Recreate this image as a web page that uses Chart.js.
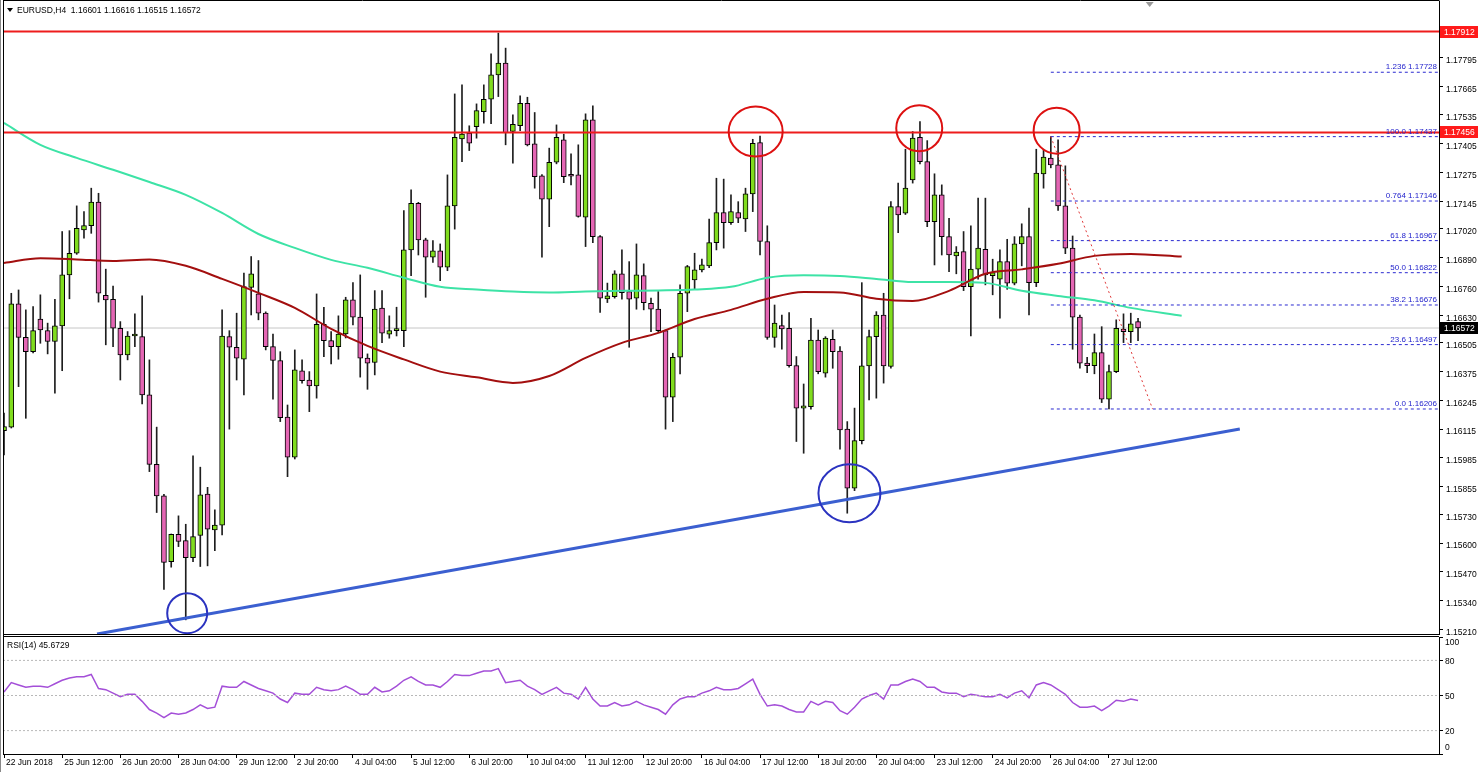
<!DOCTYPE html>
<html>
<head>
<meta charset="utf-8">
<script src="https://cdn.jsdelivr.net/npm/chart.js@4.4.0/dist/chart.umd.min.js"></script>
<style>
  html, body { margin: 0; padding: 0; background: #fff; }
  #wrap { position: relative; width: 1480px; height: 772px; overflow: hidden; }
  canvas { position: absolute; left: 0; }
  #main { top: 0; }
  #rsi { top: 636px; }
</style>
</head>
<body>
<div id="wrap">
  <canvas id="main" width="1480" height="636"></canvas>
  <canvas id="rsi" width="1480" height="136"></canvas>
</div>
<script>
// EURUSD H4 candles
const opens = [
  1.16108,1.16124,1.16681,1.16530,1.16465,1.16612,1.16560,1.16511,1.16582,1.16812,
  1.16910,1.17015,1.17035,1.17141,1.16720,1.16702,1.16571,1.16450,1.16536,1.16533,
  1.16270,1.15956,1.15813,1.15516,1.15640,1.15611,1.15534,1.15634,1.15821,1.15659,
  1.15681,1.16533,1.16485,1.16431,1.16756,1.16726,1.16639,1.16488,1.16425,1.16169,
  1.15988,1.16378,1.16337,1.16310,1.16589,1.16515,1.16488,1.16545,1.16699,1.16621,
  1.16436,1.16416,1.16662,1.16544,1.16560,1.16560,1.16925,1.17136,1.16970,1.16892,
  1.16921,1.16847,1.17124,1.17427,1.17453,1.17482,1.17550,1.17606,1.17716,1.17769,
  1.17460,1.17486,1.17588,1.17404,1.17260,1.17154,1.17321,1.17422,1.17261,1.17264,
  1.17073,1.17513,1.16985,1.16704,1.16714,1.16817,1.16737,1.16707,1.16809,1.16684,
  1.16657,1.16560,1.16259,1.16440,1.16729,1.16789,1.16835,1.16853,1.16958,1.17094,
  1.17048,1.17094,1.17065,1.17178,1.17410,1.16963,1.16529,1.16583,1.16571,1.16402,
  1.16210,1.16217,1.16518,1.16368,1.16521,1.16468,1.16115,1.15848,1.16063,1.16401,
  1.16533,1.16631,1.16398,1.17121,1.17091,1.17241,1.17434,1.17324,1.17053,1.17174,
  1.16985,1.16898,1.16917,1.16759,1.16838,1.16928,1.16808,1.16793,1.16872,1.16775,
  1.16952,1.16985,1.16777,1.17269,1.17340,1.17309,1.17124,1.16933,1.16621,1.16413,
  1.16402,1.16461,1.16250,1.16375,1.16567,1.16556,1.16601
];
const highs = [
  1.16188,1.16729,1.16744,1.16654,1.16669,1.16722,1.16594,1.16702,1.17008,1.17012,
  1.17124,1.17098,1.17204,1.17181,1.16838,1.16762,1.16601,1.16556,1.16636,1.16717,
  1.16428,1.16124,1.15820,1.15641,1.15723,1.15685,1.15994,1.15943,1.15852,1.15750,
  1.16654,1.16560,1.16639,1.16820,1.16895,1.16877,1.16645,1.16545,1.16465,1.16224,
  1.16473,1.16428,1.16375,1.16726,1.16666,1.16556,1.16627,1.16711,1.16777,1.16812,
  1.16455,1.16741,1.16741,1.16627,1.16666,1.17103,1.17196,1.17140,1.16978,1.16967,
  1.16952,1.17264,1.17630,1.17671,1.17486,1.17585,1.17671,1.17811,1.17905,1.17837,
  1.17535,1.17621,1.17615,1.17546,1.17265,1.17385,1.17490,1.17448,1.17359,1.17400,
  1.17540,1.17576,1.16990,1.16775,1.16831,1.16925,1.16872,1.16952,1.16862,1.16707,
  1.16737,1.16563,1.16458,1.16767,1.16855,1.16910,1.16883,1.17064,1.17249,1.17245,
  1.17174,1.17143,1.17204,1.17425,1.17440,1.17034,1.16676,1.16631,1.16642,1.16443,
  1.16319,1.16616,1.16563,1.16533,1.16563,1.16488,1.16149,1.16210,1.16777,1.16563,
  1.16646,1.16729,1.17143,1.17227,1.17380,1.17460,1.17505,1.17419,1.17269,1.17219,
  1.17068,1.16940,1.17008,1.17034,1.17159,1.17159,1.16883,1.16925,1.16973,1.16985,
  1.17043,1.17114,1.17380,1.17380,1.17437,1.17422,1.17305,1.16988,1.16631,1.16440,
  1.16545,1.16578,1.16405,1.16609,1.16636,1.16639,1.16616
];
const lows = [
  1.15998,1.16120,1.16307,1.16164,1.16459,1.16503,1.16455,1.16277,1.16379,1.16704,
  1.16905,1.16978,1.17000,1.16689,1.16496,1.16488,1.16337,1.16428,1.16488,1.16229,
  1.15923,1.15738,1.15391,1.15491,1.15584,1.15253,1.15516,1.15494,1.15497,1.15566,
  1.15637,1.16115,1.16337,1.16270,1.16631,1.16609,1.16473,1.16250,1.16149,1.15900,
  1.15980,1.16323,1.16194,1.16255,1.16443,1.16410,1.16431,1.16527,1.16586,1.16350,
  1.16295,1.16360,1.16506,1.16526,1.16536,1.16488,1.16808,1.16902,1.16711,1.16868,
  1.16786,1.16831,1.17019,1.17324,1.17374,1.17430,1.17498,1.17495,1.17618,1.17400,
  1.17317,1.17464,1.17395,1.17204,1.16892,1.17030,1.17314,1.17229,1.17219,1.17073,
  1.16940,1.16958,1.16642,1.16687,1.16707,1.16702,1.16485,1.16657,1.16654,1.16556,
  1.16555,1.16115,1.16149,1.16365,1.16646,1.16747,1.16826,1.16845,1.16925,1.16933,
  1.17040,1.17048,1.17008,1.17098,1.16902,1.16521,1.16485,1.16476,1.16395,1.16059,
  1.16006,1.16205,1.16365,1.16350,1.16390,1.16024,1.15735,1.15837,1.16048,1.16247,
  1.16255,1.16323,1.16390,1.17003,1.17085,1.17227,1.17314,1.17030,1.16857,1.16902,
  1.16827,1.16817,1.16741,1.16536,1.16793,1.16767,1.16722,1.16616,1.16747,1.16767,
  1.16853,1.16631,1.16759,1.17204,1.17296,1.17103,1.16908,1.16476,1.16390,1.16370,
  1.16365,1.16235,1.16206,1.16370,1.16506,1.16506,1.16515
];
const closes = [
  1.16126,1.16681,1.16530,1.16465,1.16560,1.16563,1.16511,1.16582,1.16812,1.16910,
  1.17023,1.17035,1.17141,1.16729,1.16699,1.16571,1.16450,1.16536,1.16540,1.16270,
  1.15956,1.15813,1.15513,1.15640,1.15607,1.15534,1.15629,1.15818,1.15663,1.15681,
  1.16536,1.16485,1.16436,1.16759,1.16817,1.16639,1.16488,1.16425,1.16167,1.15988,
  1.16383,1.16334,1.16310,1.16589,1.16515,1.16488,1.16545,1.16699,1.16621,1.16436,
  1.16413,1.16657,1.16549,1.16560,1.16563,1.16925,1.17136,1.16970,1.16892,1.16921,
  1.16847,1.17124,1.17434,1.17449,1.17407,1.17555,1.17606,1.17716,1.17769,1.17455,
  1.17493,1.17588,1.17400,1.17256,1.17154,1.17321,1.17434,1.17256,1.17258,1.17076,
  1.17513,1.16985,1.16707,1.16717,1.16817,1.16732,1.16702,1.16812,1.16687,1.16657,
  1.16560,1.16259,1.16440,1.16729,1.16850,1.16835,1.16857,1.16958,1.17094,1.17048,
  1.17098,1.17068,1.17178,1.17407,1.16963,1.16529,1.16594,1.16568,1.16402,1.16210,
  1.16220,1.16518,1.16375,1.16526,1.16465,1.16111,1.15848,1.16063,1.16401,1.16533,
  1.16631,1.16401,1.17121,1.17083,1.17204,1.17430,1.17324,1.17053,1.17174,1.16985,
  1.16902,1.16915,1.16759,1.16838,1.16933,1.16812,1.16822,1.16872,1.16775,1.16952,
  1.16985,1.16777,1.17272,1.17344,1.17309,1.17124,1.16933,1.16621,1.16413,1.16402,
  1.16461,1.16250,1.16375,1.16571,1.16556,1.16591,1.16572
];

// moving averages (shifted forward past the last bar), sampled along the curves
const maBars = [0,5,10,15,20,25,30,35,40,45,50,55,60,65,70,75,80,85,90,95,100,105,110,115,120,125,130,135,140,145,150,155,162];
const maGreen = [1.17499,1.17400,1.17341,1.17287,1.17232,1.17174,1.17092,1.16997,1.16934,1.16880,1.16844,1.16799,1.16758,1.16746,1.16737,1.16733,1.16737,1.16740,1.16742,1.16746,1.16758,1.16799,1.16810,1.16807,1.16794,1.16780,1.16780,1.16776,1.16740,1.16717,1.16697,1.16663,1.16627];
const maRed = [1.16866,1.16887,1.16882,1.16875,1.16882,1.16853,1.16794,1.16731,1.16663,1.16568,1.16491,1.16430,1.16375,1.16349,1.16324,1.16355,1.16437,1.16505,1.16550,1.16613,1.16654,1.16704,1.16735,1.16733,1.16704,1.16694,1.16740,1.16817,1.16837,1.16862,1.16898,1.16907,1.16895];

// RSI(14)
const rsiValues = [
  53,61,59,57,58,58,57,60,63,65,
  66,66,68,56,55,52,49,51,51,45,
  38,35,31,35,34,35,38,42,39,40,
  58,57,57,62,59,56,54,52,47,44,
  52,51,51,57,55,54,55,58,55,51,
  51,57,53,54,58,63,66,62,59,59,
  57,62,68,67,67,69,71,71,73,61,
  62,63,58,55,51,54,57,52,51,47,
  57,47,41,41,44,41,42,45,42,40,
  38,34,42,47,49,49,52,54,57,55,
  55,56,60,64,51,41,42,41,38,36,
  36,45,42,45,44,37,34,40,47,50,
  52,47,59,59,62,64,62,57,57,53,
  52,52,49,51,50,49,49,51,48,52,
  54,48,59,61,59,55,51,44,40,40,
  41,37,41,46,45,47,45.67
];
const rsiLevels = [20, 50, 80];
const rsiTicks = [0, 20, 50, 80, 100];

// axes
const priceTicks = [1.17795,1.17665,1.17535,1.17405,1.17275,1.17145,1.17020,1.16890,1.16760,1.16630,1.16505,1.16375,1.16245,1.16115,1.15985,1.15855,1.15730,1.15600,1.15470,1.15340,1.15210];
const dateBars = [0,8,16,24,32,40,48,56,64,72,80,88,96,104,112,120,128,136,144,152];
const dateLabels = ['22 Jun 2018','25 Jun 12:00','26 Jun 20:00','28 Jun 04:00','29 Jun 12:00','2 Jul 20:00','4 Jul 04:00','5 Jul 12:00','6 Jul 20:00','10 Jul 04:00','11 Jul 12:00','12 Jul 20:00','16 Jul 04:00','17 Jul 12:00','18 Jul 20:00','20 Jul 04:00','23 Jul 12:00','24 Jul 20:00','26 Jul 04:00','27 Jul 12:00'];

// drawn objects
const resistLevels = [1.17912, 1.17456];
const lastPrice = 1.16572;
const trendBars = [12.8, 170];
const trendPrices = [1.15189, 1.16116];
const fibStartBar = 144;
const fibRatios = ['1.236', '100.0', '0.764', '61.8', '50.0', '38.2', '23.6', '0.0'];
const fibPrices = [1.17728, 1.17437, 1.17146, 1.16967, 1.16822, 1.16676, 1.16497, 1.16206];
const dropBars = [144, 158];
const dropPrices = [1.17437, 1.16206];
const circleBars = [103.4, 125.9, 144.8, 25.2, 116.3];
const circlePrices = [1.17460, 1.17475, 1.17464, 1.15283, 1.15825];
const circleKinds = ['top', 'top', 'top', 'low', 'low'];

const xMin = -0.14, xMax = 197.4;
const yMin = 1.15189, yMax = 1.18050;

Chart.defaults.font.family = '"Liberation Sans", Arial, sans-serif';
Chart.defaults.font.size = 8.5;
Chart.defaults.color = '#000';

const bars = opens.map((_, i) => i);
const hline = v => [{x: xMin, y: v}, {x: xMax, y: v}];
const pts = (xs, ys) => xs.map((b, k) => ({x: b, y: ys[k]}));

const mainDecor = {
  id: 'mainDecor',
  afterDraw(chart) {
    const {ctx, chartArea: a, scales: {x, y}} = chart;
    ctx.save();

    // circles around the tops / lows
    circleBars.forEach((b, k) => {
      const top = circleKinds[k] === 'top';
      const rx = [27, 23, 23, 20, 31][k], ry = [25, 23, 23, 20, 29][k];
      ctx.beginPath();
      ctx.ellipse(x.getPixelForValue(b), y.getPixelForValue(circlePrices[k]), rx, ry, 0, 0, Math.PI * 2);
      ctx.strokeStyle = top ? '#dd1111' : '#2b33c0';
      ctx.lineWidth = 2;
      ctx.stroke();
    });

    // fibo labels
    ctx.font = '8px "Liberation Sans", Arial, sans-serif';
    ctx.fillStyle = '#2222cc';
    ctx.textAlign = 'right';
    ctx.textBaseline = 'bottom';
    fibPrices.forEach((p, k) => {
      ctx.fillText(fibRatios[k] + ' ' + p.toFixed(5), a.right - 2, y.getPixelForValue(p) - 1);
    });

    // price boxes on the axis
    const box = (p, bg) => {
      const py = Math.round(y.getPixelForValue(p));
      ctx.fillStyle = bg;
      ctx.fillRect(a.right + 1, py - 6, 38, 12);
      ctx.fillStyle = '#fff';
      ctx.textAlign = 'left';
      ctx.textBaseline = 'middle';
      ctx.font = '8.5px "Liberation Sans", Arial, sans-serif';
      ctx.fillText(p.toFixed(5), a.right + 5, py + 0.5);
    };
    resistLevels.forEach(p => box(p, '#ff1a1a'));
    box(lastPrice, '#000');

    // frame
    ctx.strokeStyle = '#000';
    ctx.lineWidth = 1;
    ctx.beginPath();
    ctx.moveTo(a.left + 0.5, 0.5); ctx.lineTo(a.right + 0.5, 0.5);
    ctx.moveTo(a.left + 0.5, 0); ctx.lineTo(a.left + 0.5, a.bottom + 2);
    ctx.moveTo(a.left, a.bottom + 0.5); ctx.lineTo(a.right, a.bottom + 0.5);
    ctx.stroke();
    ctx.strokeStyle = '#888';
    ctx.beginPath();
    ctx.moveTo(0.5, 0); ctx.lineTo(0.5, chart.height);
    ctx.stroke();

    // chart shift marker
    const sx = x.getPixelForValue(157.6);
    ctx.fillStyle = '#9a9a9a';
    ctx.beginPath();
    ctx.moveTo(sx - 4, 2); ctx.lineTo(sx + 4, 2); ctx.lineTo(sx, 7); ctx.closePath();
    ctx.fill();

    // header
    ctx.fillStyle = '#000';
    ctx.beginPath();
    ctx.moveTo(7, 8); ctx.lineTo(13, 8); ctx.lineTo(10, 12); ctx.closePath();
    ctx.fill();
    ctx.textAlign = 'left';
    ctx.textBaseline = 'middle';
    ctx.font = '8.5px "Liberation Sans", Arial, sans-serif';
    ctx.fillText('EURUSD,H4  1.16601 1.16616 1.16515 1.16572', 17, 10.5);
    ctx.restore();
  }
};

new Chart(document.getElementById('main'), {
  type: 'bar',
  data: {
    datasets: [
      { type: 'line', data: hline(lastPrice), borderColor: '#c6c6c6', borderWidth: 1, pointRadius: 0, order: 20 },
      { type: 'bar', data: bars.map(i => ({x: i, y: [lows[i], highs[i]]})), backgroundColor: '#1e1e1e',
        barThickness: 1, grouped: false, order: 11 },
      { type: 'bar', data: bars.map(i => ({x: i, y: [opens[i], closes[i]]})),
        backgroundColor: bars.map(i => closes[i] >= opens[i] ? '#80dc1e' : '#e466b4'),
        borderColor: '#000', borderWidth: 1, borderSkipped: false, barThickness: 5, minBarLength: 2,
        grouped: false, order: 10 },
      { type: 'line', data: pts(maBars, maGreen), borderColor: '#3de3a6', borderWidth: 2, pointRadius: 0,
        cubicInterpolationMode: 'monotone', order: 6 },
      { type: 'line', data: pts(maBars, maRed), borderColor: '#a30f0f', borderWidth: 2, pointRadius: 0,
        cubicInterpolationMode: 'monotone', order: 5 },
      ...resistLevels.map(v => ({ type: 'line', data: hline(v), borderColor: '#ee1c1c', borderWidth: 2, pointRadius: 0, order: 4 })),
      { type: 'line', data: pts(trendBars, trendPrices), borderColor: '#3b5fd0', borderWidth: 3, pointRadius: 0, order: 3 },
      ...fibPrices.map(v => ({ type: 'line', data: [{x: fibStartBar, y: v}, {x: xMax, y: v}], borderColor: '#2a2ad0',
        borderWidth: 1, borderDash: [3, 3], pointRadius: 0, order: 2 })),
      { type: 'line', data: pts(dropBars, dropPrices), borderColor: '#e03a3a', borderWidth: 1, borderDash: [2, 3],
        pointRadius: 0, order: 1 }
    ]
  },
  options: {
    responsive: false,
    animation: false,
    events: [],
    layout: { padding: { left: 3, top: 1, right: 0, bottom: 2 } },
    plugins: { legend: { display: false }, tooltip: { enabled: false } },
    scales: {
      x: { type: 'linear', min: xMin, max: xMax, offset: false, display: false },
      y: {
        position: 'right', min: yMin, max: yMax,
        afterFit: s => { s.width = 41; s.paddingTop = 0; s.paddingBottom = 0; },
        afterBuildTicks: s => { s.ticks = priceTicks.map(v => ({value: v})); },
        ticks: { autoSkip: false, padding: 3, labelOffset: 3, color: '#000', callback: v => v.toFixed(5) },
        grid: { drawOnChartArea: false, drawTicks: true, tickLength: 4, color: '#000' },
        border: { display: true, color: '#000' }
      }
    }
  },
  plugins: [mainDecor]
});

const rsiDecor = {
  id: 'rsiDecor',
  afterDraw(chart) {
    const {ctx, chartArea: a, scales: {y}} = chart;
    ctx.save();
    ctx.font = '8.5px "Liberation Sans", Arial, sans-serif';
    ctx.fillStyle = '#000';
    ctx.textBaseline = 'middle';
    ctx.textAlign = 'left';
    ctx.fillText('RSI(14) 45.6729', 7, 9.5);
    rsiTicks.forEach(v => {
      let py = y.getPixelForValue(v);
      if (v === 100) py += 6;
      else if (v === 0) py -= 6;
      else py += 1;
      ctx.fillText(String(v), a.right + 6, py);
    });
    ctx.strokeStyle = '#000';
    ctx.lineWidth = 1;
    ctx.beginPath();
    ctx.moveTo(a.left, 0.5); ctx.lineTo(a.right, 0.5);
    ctx.moveTo(a.left + 0.5, 0); ctx.lineTo(a.left + 0.5, a.bottom);
    ctx.stroke();
    ctx.strokeStyle = '#888';
    ctx.beginPath();
    ctx.moveTo(0.5, 0); ctx.lineTo(0.5, chart.height);
    ctx.stroke();
    ctx.restore();
  }
};

new Chart(document.getElementById('rsi'), {
  type: 'line',
  data: {
    datasets: [
      ...rsiLevels.map(v => ({ data: hline(v), borderColor: '#b8b8b8', borderWidth: 1, borderDash: [2, 2], pointRadius: 0 })),
      { data: bars.map(i => ({x: i, y: rsiValues[i]})), borderColor: '#a44fd8', borderWidth: 1.5, pointRadius: 0 }
    ]
  },
  options: {
    responsive: false,
    animation: false,
    events: [],
    layout: { padding: { left: 3, top: 1, right: 0, bottom: 0 } },
    plugins: { legend: { display: false }, tooltip: { enabled: false } },
    scales: {
      x: {
        type: 'linear', min: xMin, max: xMax, offset: false,
        afterFit: s => { s.height = 18; s.paddingLeft = 0; s.paddingRight = 0; },
        afterBuildTicks: s => { s.ticks = dateBars.map(v => ({value: v})); },
        ticks: { autoSkip: false, maxRotation: 0, align: 'start', padding: 0, labelOffset: 2, color: '#000',
          callback: (v, i) => dateLabels[i] },
        grid: { drawOnChartArea: false, tickLength: 4, color: '#000' },
        border: { display: true, color: '#000' }
      },
      y: {
        position: 'right', min: 0, max: 100,
        afterFit: s => { s.width = 41; s.paddingTop = 0; s.paddingBottom = 0; },
        afterBuildTicks: s => { s.ticks = rsiTicks.map(v => ({value: v})); },
        ticks: { display: false },
        grid: { drawOnChartArea: false, tickLength: 4, color: '#000' },
        border: { display: true, color: '#000' }
      }
    }
  },
  plugins: [rsiDecor]
});
</script>
</body>
</html>
